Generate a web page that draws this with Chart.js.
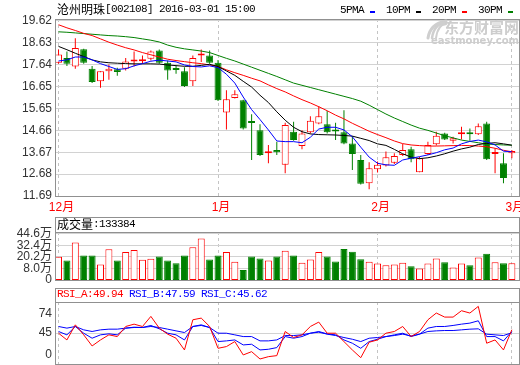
<!DOCTYPE html>
<html>
<head>
<meta charset="utf-8">
<title>沧州明珠 日K</title>
<script src="https://cdn.jsdelivr.net/npm/chart.js@4.4.1/dist/chart.umd.min.js"></script>
<style>
  html, body { margin: 0; padding: 0; background: #fff; }
  #box { position: relative; width: 520px; height: 365px; overflow: hidden; }
  #box canvas { position: absolute; left: 0; top: 0; }
</style>
</head>
<body>
<div id="box">
  <canvas id="kline" width="520" height="365"></canvas>
  <canvas id="volume" width="520" height="365"></canvas>
  <canvas id="rsi" width="520" height="365"></canvas>
</div>
<script>
const title = '沧州明珠[002108] 2016-03-01 15:00';
const maLabels = ['5PMA', '10PM', '20PM', '30PM'];
const monthStarts = [0, 19, 38, 54];
const monthLabels = ['12月', '1月', '2月', '3月'];

const opens = [17.72, 17.93, 17.55, 18.33, 17.45, 16.88, 17.33, 17.43, 17.45, 17.78,
  17.79, 17.90, 18.27, 17.72, 17.45, 17.34, 16.88, 18.05, 18.05, 17.72,
  15.47, 16.13, 16.02, 15.05, 14.67, 13.62, 13.77, 13.10, 14.60, 13.95,
  14.57, 14.97, 14.94, 14.67, 14.57, 14.07, 13.32, 12.27, 12.90, 13.07,
  13.20, 13.55, 13.80, 12.77, 13.59, 14.03, 14.52, 14.19, 14.48, 14.55,
  14.49, 14.97, 13.59, 13.17, 13.62];
const highs = [18.32, 18.23, 18.83, 18.35, 17.57, 17.33, 17.64, 17.49, 17.93, 18.23,
  18.05, 18.27, 18.32, 17.82, 17.60, 17.52, 18.05, 18.32, 18.27, 17.85,
  16.47, 16.47, 16.05, 15.39, 14.94, 14.00, 14.15, 15.00, 15.05, 14.67,
  15.30, 15.75, 15.54, 15.00, 15.57, 14.40, 13.55, 13.22, 13.25, 13.70,
  13.62, 14.04, 13.92, 13.47, 14.15, 14.60, 14.55, 14.37, 14.82, 14.75,
  14.97, 15.05, 13.85, 13.62, 13.77];
const lows = [17.67, 17.57, 17.45, 17.67, 16.80, 16.59, 16.95, 17.13, 17.37, 17.55,
  17.67, 17.82, 17.67, 16.95, 17.22, 16.62, 16.67, 17.75, 17.67, 15.99,
  14.70, 16.10, 14.70, 13.32, 13.50, 13.17, 13.55, 12.72, 14.19, 13.80,
  14.52, 14.94, 14.52, 14.22, 14.03, 12.87, 12.21, 12.00, 12.75, 13.02,
  13.14, 13.50, 13.22, 12.77, 13.55, 13.97, 14.22, 14.07, 14.25, 14.19,
  14.45, 13.32, 12.72, 12.27, 13.40];
const closes = [18.09, 17.67, 18.39, 17.72, 16.85, 17.33, 17.45, 17.30, 17.78, 17.87,
  17.82, 18.23, 17.72, 17.37, 17.39, 16.67, 17.93, 18.12, 17.72, 16.02,
  16.07, 16.29, 14.75, 14.99, 13.55, 13.68, 13.67, 14.90, 14.22, 14.52,
  15.09, 15.30, 14.57, 14.61, 14.07, 13.59, 12.24, 12.95, 13.10, 13.44,
  13.50, 13.77, 13.35, 13.40, 14.00, 14.42, 14.25, 14.30, 14.57, 14.48,
  14.85, 13.35, 13.65, 12.50, 13.73];

const ma5 = [17.80, 17.85, 17.98, 17.98, 17.85, 17.68, 17.55, 17.42, 17.45, 17.58,
  17.68, 17.79, 17.84, 17.80, 17.76, 17.62, 17.55, 17.53, 17.58, 17.50,
  17.20, 16.80, 16.17, 15.60, 15.15, 14.68, 14.18, 14.15, 14.15, 14.10,
  14.35, 14.72, 14.80, 14.80, 14.68, 14.37, 13.90, 13.45, 13.17, 13.10,
  13.08, 13.32, 13.40, 13.47, 13.55, 13.65, 13.78, 13.86, 14.05, 14.16,
  14.22, 14.14, 14.00, 13.72, 13.69];
const ma10 = [18.46, 18.31, 18.15, 18.00, 17.85, 17.76, 17.72, 17.70, 17.68, 17.67,
  17.67, 17.67, 17.66, 17.62, 17.59, 17.56, 17.56, 17.60, 17.65, 17.55,
  17.35, 17.15, 16.88, 16.62, 16.25, 15.92, 15.50, 15.12, 14.80, 14.60,
  14.50, 14.47, 14.46, 14.45, 14.43, 14.40, 14.30, 14.20, 14.05, 13.98,
  13.80, 13.60, 13.45, 13.38, 13.42, 13.50, 13.60, 13.72, 13.82, 13.90,
  14.02, 14.07, 14.10, 14.05, 13.99];
const ma20 = [19.44, 19.30, 19.18, 19.05, 18.95, 18.80, 18.65, 18.52, 18.40, 18.30,
  18.18, 18.08, 17.98, 17.88, 17.82, 17.77, 17.72, 17.68, 17.62, 17.55,
  17.40, 17.27, 17.15, 17.02, 16.90, 16.72, 16.55, 16.40, 16.22, 16.05,
  15.90, 15.73, 15.55, 15.35, 15.18, 14.98, 14.80, 14.62, 14.47, 14.33,
  14.18, 14.06, 14.00, 13.97, 13.95, 13.95, 13.96, 13.97, 13.98, 13.97,
  13.95, 13.92, 13.85, 13.76, 13.69];
const ma30 = [19.12, 19.10, 19.07, 19.04, 19.01, 18.98, 18.95, 18.93, 18.90, 18.86,
  18.80, 18.74, 18.66, 18.52, 18.42, 18.35, 18.30, 18.25, 18.18, 18.05,
  17.92, 17.80, 17.66, 17.52, 17.38, 17.24, 17.10, 16.95, 16.80, 16.70,
  16.60, 16.50, 16.40, 16.30, 16.20, 16.10, 15.98, 15.80, 15.60, 15.40,
  15.22, 15.06, 14.90, 14.76, 14.66, 14.54, 14.42, 14.32, 14.22, 14.16,
  14.10, 14.04, 14.02, 14.00, 13.99];

// 成交量, 万股
const volumes = [20.2, 16.4, 35.4, 21.5, 21.5, 12.1, 28.3, 16.4, 25.3, 27.3,
  17.1, 18.2, 20.5, 16.4, 13.4, 21.5, 30.4, 39.5, 17.5, 21.5,
  25.3, 15.1, 6.3, 20.5, 18.5, 16.4, 20.5, 26.6, 21.5, 14.1,
  17.5, 25.3, 20.5, 15.4, 28.6, 25.6, 17.8, 15.1, 13.1, 11.4,
  12.1, 14.1, 10.3, 8.0, 13.1, 18.5, 14.4, 9.0, 13.1, 11.4,
  19.5, 23.6, 14.4, 13.4, 13.34];
const lastVolume = 133384;

const rsiA = [44.9, 35.1, 57.1, 42.5, 26.3, 35.1, 42.5, 40.0, 54.7, 58.1,
  54.7, 69.4, 52.3, 43.5, 37.6, 20.5, 64.5, 66.9, 54.7, 22.9,
  25.4, 32.7, 13.2, 18.0, 7.3, 10.7, 12.2, 47.4, 38.6, 42.5,
  54.7, 61.1, 44.9, 44.9, 32.7, 20.5, 9.2, 31.7, 35.1, 44.9,
  47.4, 54.7, 40.0, 47.4, 64.5, 74.3, 68.4, 68.4, 77.7, 74.3,
  84.0, 30.3, 35.1, 20.5, 49.94];
const rsiB = [47.4, 42.5, 54.7, 44.9, 37.6, 42.5, 44.0, 42.5, 52.3, 53.7,
  53.2, 56.2, 51.3, 44.9, 42.5, 35.1, 54.7, 57.1, 53.2, 32.7,
  33.7, 35.1, 27.8, 28.8, 20.5, 21.5, 23.9, 40.0, 37.6, 40.0,
  44.9, 47.4, 43.9, 42.5, 35.1, 30.3, 22.9, 32.7, 36.1, 40.0,
  42.5, 44.9, 40.0, 43.5, 52.3, 54.7, 54.7, 56.2, 58.1, 59.6,
  63.0, 40.0, 40.0, 33.7, 47.59];
const rsiC = [54.7, 52.3, 54.7, 49.8, 47.4, 49.8, 50.8, 50.8, 52.3, 53.2,
  53.2, 54.7, 53.2, 50.8, 48.3, 45.9, 54.7, 56.2, 53.2, 44.9,
  44.9, 42.5, 40.0, 40.0, 33.7, 33.7, 35.1, 41.5, 41.5, 42.5,
  44.9, 46.4, 43.5, 41.5, 38.6, 36.1, 32.7, 37.6, 38.6, 40.0,
  41.5, 43.5, 41.0, 43.5, 47.4, 48.3, 48.8, 48.8, 49.8, 50.8,
  51.3, 43.5, 42.5, 41.5, 45.62];

const priceTicks = [19.62, 18.63, 17.64, 16.65, 15.65, 14.66, 13.67, 12.68, 11.69];
const volMin = -4.2;
const volTicks = [volMin, 8.0, 20.2, 32.4, 44.6];
const volTickLabels = ['0', '8.0万', '20.2万', '32.4万', '44.6万'];
const rsiTicks = [74, 45, 0];

const RED = '#ff0000', GREEN = '#008000', BLUE = '#0000ff', BLACK = '#000000';
const FRAME = '#909090', GRID = '#d2d2d2', DASH = '#c4c4c4';
const FONT = '"Liberation Sans", "Noto Sans CJK SC", sans-serif';
const maColors = [BLUE, BLACK, RED, GREEN];

Chart.defaults.font.family = FONT;

const up = opens.map((o, i) => closes[i] >= o);
const lineColor = up.map(u => (u ? RED : GREEN));
const fillColor = up.map(u => (u ? '#ffffff' : GREEN));
const pts = arr => arr.map((y, x) => ({ x, y }));

// SimSun-like spacing: 6px per half-width char, 12px per CJK char
function mixedText(ctx, str, x, y, color) {
  ctx.fillStyle = color;
  ctx.textBaseline = 'middle';
  ctx.textAlign = 'left';
  for (const ch of str) {
    const wide = ch.charCodeAt(0) > 0x2000;
    ctx.font = wide ? '12px "Noto Sans CJK SC"' : '11px "Liberation Mono"';
    ctx.fillText(ch, x, y);
    x += wide ? 12 : 6;
  }
  return x;
}

function panel(header, extra) {
  return {
    id: 'panel',
    afterDraw(chart) {
      const { ctx, chartArea: a } = chart;
      ctx.save();
      ctx.strokeStyle = FRAME;
      ctx.lineWidth = 1;
      const top = a.top - header;
      ctx.strokeRect(a.left + 0.5, top + 0.5, a.right - a.left, a.bottom - top);
      if (header) {
        ctx.beginPath();
        ctx.moveTo(a.left, a.top + 0.5);
        ctx.lineTo(a.right, a.top + 0.5);
        ctx.stroke();
      }
      extra(ctx, chart);
      ctx.restore();
    }
  };
}

function xAxis(showLabels) {
  return {
    type: 'linear', min: -0.42, max: 54.85, offset: false,
    grid: { color: DASH, drawTicks: false, offset: false },
    border: { display: false, dash: [3, 3] },
    afterBuildTicks: s => { s.ticks = monthStarts.map(v => ({ value: v })); },
    ticks: {
      display: showLabels, autoSkip: false, maxRotation: 0, padding: 4, labelOffset: 3,
      color: RED, font: { size: 12 },
      callback: (v, i) => monthLabels[i]
    },
    afterFit: s => { s.height = showLabels ? 20 : 0; s.paddingLeft = 0; s.paddingRight = 0; }
  };
}

function yAxis(min, max, values, label, showLabels, gridColor) {
  return {
    type: 'linear', min, max, beginAtZero: false,
    grid: { color: gridColor, drawTicks: false },
    border: { display: false },
    afterBuildTicks: s => { s.ticks = values.map(v => ({ value: v })); },
    ticks: {
      display: showLabels, autoSkip: false, padding: 3, color: '#333',
      font: { size: 12 }, callback: label
    },
    afterFit: s => { s.width = 55; s.paddingTop = 0; s.paddingBottom = 0; }
  };
}

const common = {
  responsive: false, animation: false, devicePixelRatio: 1, events: [],
  plugins: { legend: { display: false }, tooltip: { enabled: false } }
};

const lineSet = (data, color, order) => ({
  type: 'line', data: pts(data), borderColor: color, borderWidth: 1,
  pointRadius: 0, tension: 0, fill: false, order
});

// 东方财富 logo swirl, light grey
function logo(ctx) {
  ctx.strokeStyle = '#cfcfcf';
  ctx.lineCap = 'round';
  [[3, 0], [2.5, 4], [2, 8]].forEach(([w, d]) => {
    ctx.lineWidth = w;
    ctx.beginPath();
    ctx.moveTo(428 + d, 38);
    ctx.quadraticCurveTo(430 + d, 24, 446, 21 + d * 0.4);
    ctx.stroke();
  });
}

// K线 + 均线
new Chart(document.getElementById('kline'), {
  type: 'bar',
  data: {
    datasets: [
      lineSet(ma5, BLUE, 0), lineSet(ma10, BLACK, 0), lineSet(ma20, RED, 0), lineSet(ma30, GREEN, 0),
      {
        data: opens.map((o, x) => ({ x, y: [o, closes[x]] })),
        backgroundColor: fillColor, borderColor: lineColor, borderWidth: 1,
        borderSkipped: false, barThickness: 7, minBarLength: 2, grouped: false, inflateAmount: 0, order: 1
      },
      {
        data: lows.map((l, x) => ({ x, y: [l, highs[x]] })),
        backgroundColor: lineColor, borderWidth: 0,
        barThickness: 1, grouped: false, inflateAmount: 0, order: 2
      }
    ]
  },
  options: {
    ...common,
    layout: { padding: { top: 19, bottom: 149, left: 0, right: 1 } },
    scales: {
      x: xAxis(true),
      y: yAxis(11.69, 19.70, priceTicks, v => v.toFixed(2), true, GRID)
    }
  },
  plugins: [panel(0, (ctx) => {
    mixedText(ctx, title, 57, 9, BLACK);
    let x = 340;
    maLabels.forEach((t, i) => {
      x = mixedText(ctx, t, x, 10, BLACK) + 6;
      ctx.fillStyle = maColors[i];
      ctx.fillRect(x, 11, 5, 2);
      x += 16;
    });
    logo(ctx);
    ctx.fillStyle = '#cdcdcd';
    ctx.textAlign = 'right';
    ctx.textBaseline = 'middle';
    ctx.font = 'bold 15px "Noto Sans CJK SC"';
    ctx.fillText('东方财富网', 519, 27);
    ctx.font = 'bold 10px "DejaVu Sans"';
    ctx.fillText('eastmoney.com', 519, 41);
  })]
});

// 成交量
new Chart(document.getElementById('volume'), {
  type: 'bar',
  data: {
    datasets: [{
      data: volumes.map((v, x) => ({ x, y: [volMin, v] })),
      backgroundColor: fillColor, borderColor: lineColor, borderWidth: 1,
      borderSkipped: false, barThickness: 7, grouped: false, inflateAmount: 0
    }]
  },
  options: {
    ...common,
    layout: { padding: { top: 232, bottom: 85, left: 0, right: 1 } },
    scales: {
      x: xAxis(false),
      y: yAxis(volMin, 46.4, volTicks, (v, i) => volTickLabels[i], true, GRID)
    }
  },
  plugins: [panel(15, (ctx) => {
    mixedText(ctx, '成交量:' + lastVolume, 57, 224, BLACK);
  })]
});

// RSI
new Chart(document.getElementById('rsi'), {
  type: 'line',
  data: {
    datasets: [lineSet(rsiC, BLUE, 2), lineSet(rsiB, BLUE, 1), lineSet(rsiA, RED, 0)]
  },
  options: {
    ...common,
    layout: { padding: { top: 302, bottom: 1, left: 0, right: 1 } },
    scales: {
      x: xAxis(false),
      y: yAxis(0, 90.4, rsiTicks, v => String(v), false,
        c => (c.tick && c.tick.value === 45 ? GRID : 'rgba(0,0,0,0)'))
    }
  },
  plugins: [panel(14, (ctx, chart) => {
    let x = mixedText(ctx, 'RSI_A:' + rsiA[rsiA.length - 1].toFixed(2) + ' ', 57, 294, RED);
    x = mixedText(ctx, 'RSI_B:' + rsiB[rsiB.length - 1].toFixed(2) + ' ', x, 294, BLUE);
    mixedText(ctx, 'RSI_C:' + rsiC[rsiC.length - 1].toFixed(2), x, 294, BLUE);
    const ys = chart.scales.y;
    ctx.fillStyle = '#333';
    ctx.font = '12px ' + FONT;
    ctx.textAlign = 'right';
    ctx.textBaseline = 'middle';
    rsiTicks.forEach(v => {
      const y = Math.min(ys.getPixelForValue(v), chart.chartArea.bottom - 9);
      ctx.fillText(String(v), 52, y);
    });
  })]
});
</script>
</body>
</html>
